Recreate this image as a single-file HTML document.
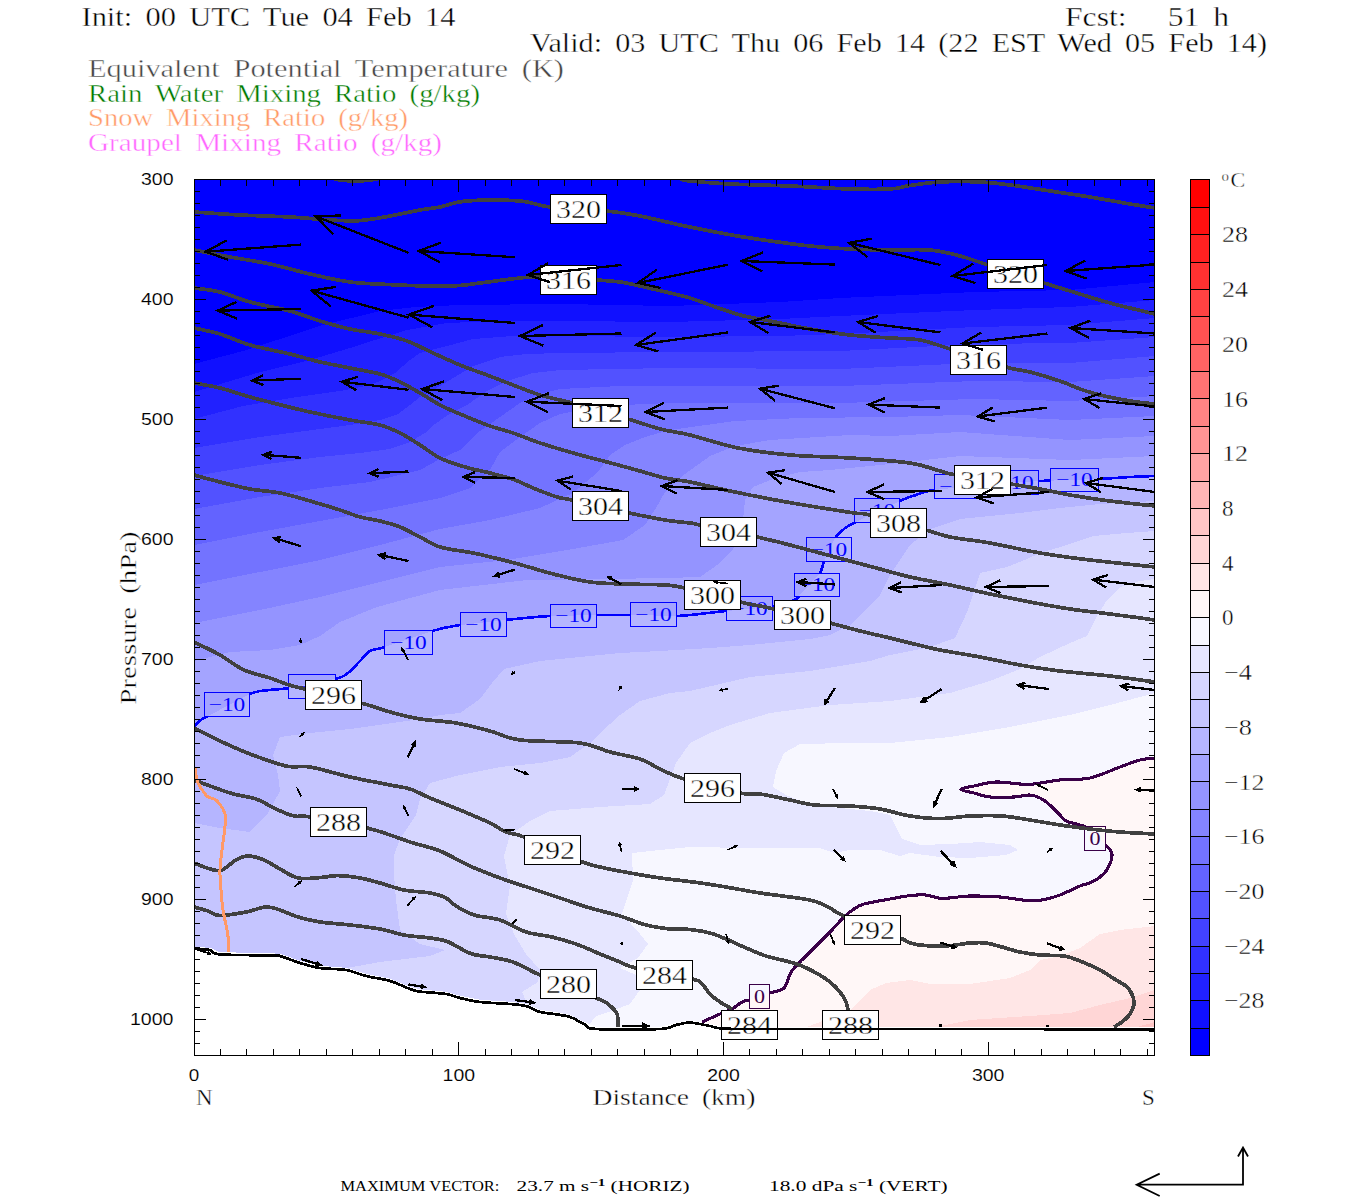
<!DOCTYPE html>
<html><head><meta charset="utf-8"><title>Cross section</title>
<style>html,body{margin:0;padding:0;background:#fff}svg{display:block}text{white-space:pre}</style></head><body>
<svg width="1350" height="1200" viewBox="0 0 1350 1200">
<rect width="1350" height="1200" fill="#fff"/>
<defs><clipPath id="pc"><rect x="194" y="179" width="961" height="876"/></clipPath></defs>
<text x="81.5" y="26" font-family='"Liberation Serif", serif' font-size="27" fill="#000" text-anchor="start" textLength="374" lengthAdjust="spacingAndGlyphs" stroke="#fff" stroke-width="0.4" word-spacing="5">Init: 00 UTC Tue 04 Feb 14</text>
<text x="1065" y="26" font-family='"Liberation Serif", serif' font-size="27" fill="#000" text-anchor="start" textLength="164" lengthAdjust="spacingAndGlyphs" stroke="#fff" stroke-width="0.4" word-spacing="5">Fcst:   51 h</text>
<text x="530" y="52" font-family='"Liberation Serif", serif' font-size="27" fill="#000" text-anchor="start" textLength="737" lengthAdjust="spacingAndGlyphs" stroke="#fff" stroke-width="0.4" word-spacing="5">Valid: 03 UTC Thu 06 Feb 14 (22 EST Wed 05 Feb 14)</text>
<text x="88" y="76.5" font-family='"Liberation Serif", serif' font-size="24.5" fill="#444" text-anchor="start" textLength="476" lengthAdjust="spacingAndGlyphs" stroke="#fff" stroke-width="0.4" word-spacing="5">Equivalent Potential Temperature (K)</text>
<text x="88" y="101.5" font-family='"Liberation Serif", serif' font-size="24.5" fill="#007a00" text-anchor="start" textLength="392" lengthAdjust="spacingAndGlyphs" stroke="#fff" stroke-width="0.4" word-spacing="5">Rain Water Mixing Ratio (g/kg)</text>
<text x="88" y="126" font-family='"Liberation Serif", serif' font-size="24.5" fill="#ff9966" text-anchor="start" textLength="320" lengthAdjust="spacingAndGlyphs" stroke="#fff" stroke-width="0.4" word-spacing="5">Snow Mixing Ratio (g/kg)</text>
<text x="88" y="150.5" font-family='"Liberation Serif", serif' font-size="24.5" fill="#ff66ff" text-anchor="start" textLength="354" lengthAdjust="spacingAndGlyphs" stroke="#fff" stroke-width="0.4" word-spacing="5">Graupel Mixing Ratio (g/kg)</text>
<g clip-path="url(#pc)" shape-rendering="crispEdges">
<rect x="194" y="179" width="961" height="876" fill="rgb(0,0,255)"/>
<polygon points="194,364 243,351 277,340 323,325 380,311 415,307 460,305 560,304 670,306 780,302 840,298 975,292 1070,290 1155,282 1157,282 1157,1057 192,1057 192,364" fill="rgb(16,16,255)"/>
<polygon points="194,392 257,373 310,360 350,348 375,340 407,330 447,323 500,321 560,321 670,322 780,319 840,316 975,310 1070,307 1155,300 1157,300 1157,1057 192,1057 192,392" fill="rgb(33,33,255)"/>
<polygon points="194,419 243,406 297,397 340,391 365,386 380,381 395,373 410,360 420,353 447,346 473,339 513,336 560,336 670,337 780,336 840,334 975,327 1070,325 1155,318 1157,318 1157,1057 192,1057 192,419" fill="rgb(49,49,255)"/>
<polygon points="194,448 260,437 320,429 350,425 380,420 398,414 410,405 420,397 435,389 455,377 473,366 500,357 527,354 560,353 670,352 840,351 975,344 1070,343 1155,337 1157,337 1157,1057 192,1057 192,448" fill="rgb(66,66,255)"/>
<polygon points="194,476 260,465 320,457 360,453 390,449 410,442 425,433 435,424 448,415 467,405 487,391 507,381 533,373 560,370 670,368 840,369 975,363 1070,363 1155,356 1157,356 1157,1057 192,1057 192,476" fill="rgb(82,82,255)"/>
<polygon points="194,509 260,497 320,488 370,482 420,470 440,459 460,450 480,431 500,417 520,403 540,394 560,389 620,386 670,386 840,386 975,381 1070,382 1155,376 1157,376 1157,1057 192,1057 192,509" fill="rgb(99,99,255)"/>
<polygon points="194,545 260,532 320,521 380,510 440,498 470,488 490,470 500,452 520,437 540,423 560,414 600,406 670,403 840,403 975,399 1070,401 1155,396 1157,396 1157,1057 192,1057 192,545" fill="rgb(115,115,255)"/>
<polygon points="194,585 260,572 320,560 380,545 440,529 490,520 540,508 573,493 598,472 610,455 625,445 645,437 670,430 735,421 800,418 890,417 960,415 1070,420 1155,416 1157,416 1157,1057 192,1057 192,585" fill="rgb(132,132,255)"/>
<polygon points="194,623 260,610 320,597 380,582 440,567 507,560 573,549 623,540 645,525 656,508 665,492 685,474 710,456 735,446 770,440 850,435 890,436 960,432 1070,440 1155,436 1157,436 1157,1057 192,1057 192,623" fill="rgb(148,148,255)"/>
<polygon points="194,661 230,652 270,650 300,645 320,636 340,622 377,607 440,590 527,580 607,579 665,578 700,577 720,563 733,549 743,520 745,500 753,487 773,479 800,472 830,470 890,464 960,456 1070,460 1155,456 1157,456 1157,1057 192,1057 192,661" fill="rgb(164,164,255)"/>
<polygon points="194,727 202,719 210,715 250,694 270,690 289,688 335,679 348,673 360,661 370,651 385,647 432,631 460,625 505,620 550,616 597,615 630,615 677,616 726,611 772,607 794,600 800,595 812,582 820,573 824,562 830,548 835,538 844,529 856,522 900,501 916,495 934,490 990,484 1039,481 1098,479 1130,477 1155,476 1157,476 1157,1057 192,1057 192,727" fill="rgb(181,181,255)"/>
<polygon points="194,823 220,828 250,832 268,813 280,791 278,775 273,755 280,737 310,733 350,729 420,719 440,715 460,713 480,699 492,683 504,669 540,661 580,657 620,653 660,651 710,648 750,645 810,639 830,635 850,625 880,595 890,575 910,545 930,529 960,519 1020,513 1060,508 1100,504 1155,501 1157,501 1157,1057 192,1057 192,823" fill="rgb(197,197,255)"/>
<polygon points="330,971 380,962 430,956 445,950 420,944 400,930 396,900 394,875 394,855 400,839 416,815 420,799 430,783 460,775 500,767 540,763 570,757 590,743 600,733 620,715 640,701 670,693 690,691 750,677 810,671 870,661 890,655 930,647 955,638 968,610 980,573 1007,567 1027,559 1040,553 1067,545 1093,536 1127,533 1155,531 1157,531 1157,1057 330,1057" fill="rgb(214,214,255)"/>
<polygon points="530,1010 522,992 538,982 540,970 526,954 514,934 506,914 510,886 504,856 510,835 530,821 550,811 600,807 650,804 664,795 670,779 676,763 690,743 710,733 730,725 770,713 830,705 890,701 950,693 990,681 1020,669 1040,657 1070,643 1087,636 1097,616 1107,600 1120,587 1140,581 1155,579 1157,579 1157,1057 530,1057" fill="rgb(230,230,255)"/>
<polygon points="588,1026 596,1016 614,1010 630,1004 640,990 636,975 620,968 638,958 648,944 640,934 622,914 628,896 633,880 632,853 660,850 690,847 750,848 820,848 834,853 850,850 880,850 900,856 910,853 940,857 970,858 1006,855 1018,850 1010,845 980,842 950,844 920,845 902,839 896,827 890,815 870,811 810,805 786,795 773,787 776,771 784,753 800,744 850,743 890,743 950,737 1010,727 1070,715 1110,705 1155,693 1157,693 1157,1057 588,1057" fill="rgb(247,247,255)"/>
<polygon points="702,1022 720,1014 732,1009 742,1002 749,1000 770,993 784,988 790,974 796,966 810,952 830,932 844,917 854,909 864,904 890,899 910,895.6 926,895 942,898.4 970,896 1000,897 1026,900.4 1042,900 1060,895 1080,886 1090,883 1100,877 1108,868 1112,854 1105.6,845 1096,835 1086,827 1080,825 1066,821 1060,815 1052,807 1042,799 1030,795 1014,797 990,797 974,793 961,789.4 974,786 996,782 1020,784 1034,784 1060,780 1090,778 1120,767 1140,760 1155,758 1157,758 1157,1057 702,1057" fill="rgb(255,247,247)"/>
<polygon points="802,1029 830,1018 850,1010 860,1000 870,990 886,983 910,980 930,984 970,984 1010,978 1030,970 1040,960 1060,956 1080,948 1100,934 1120,930 1155,926 1157,926 1157,1057 802,1057" fill="rgb(255,230,230)"/>
<polygon points="926,1029 970,1020 1030,1016 1070,1013 1100,1005 1130,998 1155,990 1157,990 1157,1057 926,1057" fill="rgb(255,214,214)"/>
<polygon points="1130,1029 1155,1022 1157,1022 1157,1057 1130,1057" fill="rgb(255,197,197)"/>
<polygon points="194,946.8 210,947.8 220,952.2 270,953.2 280,953.8 300,960.8 320,965.8 346,967.8 366,973.8 390,978.8 410,986.8 420,989.4 446,991.8 460,995.8 480,999.8 510,1001.8 526,1003.8 540,1009.8 554,1011.8 570,1014.8 584,1021.8 596,1026.8 660,1026.8 676,1022.8 690,1020.4 710,1023.8 722,1026.3 760,1026.8 960,1026.8 1155,1027.2 1157,1057 192,1057" fill="#fff"/>
<mask id="m10" maskUnits="userSpaceOnUse" x="0" y="0" width="1350" height="1200"><rect width="1350" height="1200" fill="#fff"/><rect x="204" y="692" width="45.6" height="24" fill="#000"/><rect x="289" y="674.4" width="46.4" height="24.1" fill="#000"/><rect x="385" y="630.7" width="47" height="24.1" fill="#000"/><rect x="460.4" y="612" width="46.1" height="24" fill="#000"/><rect x="550" y="604" width="46.7" height="23.8" fill="#000"/><rect x="630" y="603" width="46.7" height="24" fill="#000"/><rect x="726.4" y="596.6" width="46" height="24" fill="#000"/><rect x="794.4" y="573.4" width="45.2" height="23.2" fill="#000"/><rect x="806.4" y="537.4" width="45.2" height="24" fill="#000"/><rect x="854.4" y="498.4" width="45.2" height="24" fill="#000"/><rect x="934.4" y="474.4" width="45.6" height="24" fill="#000"/><rect x="992" y="471" width="46.6" height="23.6" fill="#000"/><rect x="1051" y="468.4" width="47" height="23.4" fill="#000"/><rect x="749.6" y="984.4" width="20.2" height="24.1" fill="#000"/><rect x="1085" y="826.7" width="20.6" height="23.3" fill="#000"/></mask>
<path d="M194 727C195.3 725.7 199.3 721 202 719C204.7 717 202 719.2 210 715C218 710.8 240 698.2 250 694C260 689.8 263.5 691 270 690C276.5 689 278.2 689.8 289 688C299.8 686.2 325.2 681.5 335 679C344.8 676.5 343.8 676 348 673C352.2 670 356.3 664.7 360 661C363.7 657.3 365.8 653.3 370 651C374.2 648.7 374.7 650.3 385 647C395.3 643.7 419.5 634.7 432 631C444.5 627.3 447.8 626.8 460 625C472.2 623.2 490 621.5 505 620C520 618.5 534.7 616.8 550 616C565.3 615.2 583.7 615.2 597 615C610.3 614.8 616.7 614.8 630 615C643.3 615.2 661 616.7 677 616C693 615.3 710.2 612.5 726 611C741.8 609.5 760.7 608.8 772 607C783.3 605.2 789.3 602 794 600C798.7 598 797 598 800 595C803 592 808.7 585.7 812 582C815.3 578.3 818 576.3 820 573C822 569.7 822.3 566.2 824 562C825.7 557.8 828.2 552 830 548C831.8 544 832.7 541.2 835 538C837.3 534.8 840.5 531.7 844 529C847.5 526.3 846.7 526.7 856 522C865.3 517.3 890 505.5 900 501C910 496.5 910.3 496.8 916 495C921.7 493.2 921.7 491.8 934 490C946.3 488.2 972.5 485.5 990 484C1007.5 482.5 1021 481.8 1039 481C1057 480.2 1082.8 479.7 1098 479C1113.2 478.3 1120.5 477.5 1130 477C1139.5 476.5 1150.8 476.2 1155 476" fill="none" stroke="#0000ff" stroke-width="2.6" mask="url(#m10)"/>
<rect x="204.5" y="692.5" width="45" height="24" fill="none" stroke="#0000ff" stroke-width="1"/>
<text x="227" y="711.2" font-family='"Liberation Serif", serif' font-size="18.5" fill="#0000ff" text-anchor="middle" textLength="36.5" lengthAdjust="spacingAndGlyphs" >−10</text>
<rect x="288.5" y="674.5" width="47" height="24" fill="none" stroke="#0000ff" stroke-width="1"/>
<text x="312" y="693.2" font-family='"Liberation Serif", serif' font-size="18.5" fill="#0000ff" text-anchor="middle" textLength="36.5" lengthAdjust="spacingAndGlyphs" >−10</text>
<rect x="384.5" y="630.5" width="48" height="24" fill="none" stroke="#0000ff" stroke-width="1"/>
<text x="408.5" y="649.2" font-family='"Liberation Serif", serif' font-size="18.5" fill="#0000ff" text-anchor="middle" textLength="36.5" lengthAdjust="spacingAndGlyphs" >−10</text>
<rect x="460.5" y="612.5" width="46" height="24" fill="none" stroke="#0000ff" stroke-width="1"/>
<text x="483.5" y="631.2" font-family='"Liberation Serif", serif' font-size="18.5" fill="#0000ff" text-anchor="middle" textLength="36.5" lengthAdjust="spacingAndGlyphs" >−10</text>
<rect x="550.5" y="604.5" width="46" height="23" fill="none" stroke="#0000ff" stroke-width="1"/>
<text x="573.5" y="622.2" font-family='"Liberation Serif", serif' font-size="18.5" fill="#0000ff" text-anchor="middle" textLength="36.5" lengthAdjust="spacingAndGlyphs" >−10</text>
<rect x="630.5" y="602.5" width="46" height="24" fill="none" stroke="#0000ff" stroke-width="1"/>
<text x="653.5" y="621.2" font-family='"Liberation Serif", serif' font-size="18.5" fill="#0000ff" text-anchor="middle" textLength="36.5" lengthAdjust="spacingAndGlyphs" >−10</text>
<rect x="726.5" y="596.5" width="46" height="24" fill="none" stroke="#0000ff" stroke-width="1"/>
<text x="749.5" y="615.2" font-family='"Liberation Serif", serif' font-size="18.5" fill="#0000ff" text-anchor="middle" textLength="36.5" lengthAdjust="spacingAndGlyphs" >−10</text>
<rect x="794.5" y="573.5" width="45" height="23" fill="none" stroke="#0000ff" stroke-width="1"/>
<text x="817" y="591.2" font-family='"Liberation Serif", serif' font-size="18.5" fill="#0000ff" text-anchor="middle" textLength="36.5" lengthAdjust="spacingAndGlyphs" >−10</text>
<rect x="806.5" y="537.5" width="45" height="24" fill="none" stroke="#0000ff" stroke-width="1"/>
<text x="829" y="556.2" font-family='"Liberation Serif", serif' font-size="18.5" fill="#0000ff" text-anchor="middle" textLength="36.5" lengthAdjust="spacingAndGlyphs" >−10</text>
<rect x="854.5" y="498.5" width="45" height="24" fill="none" stroke="#0000ff" stroke-width="1"/>
<text x="877" y="517.2" font-family='"Liberation Serif", serif' font-size="18.5" fill="#0000ff" text-anchor="middle" textLength="36.5" lengthAdjust="spacingAndGlyphs" >−10</text>
<rect x="934.5" y="474.5" width="46" height="24" fill="none" stroke="#0000ff" stroke-width="1"/>
<text x="957.5" y="493.2" font-family='"Liberation Serif", serif' font-size="18.5" fill="#0000ff" text-anchor="middle" textLength="36.5" lengthAdjust="spacingAndGlyphs" >−10</text>
<rect x="992.5" y="470.5" width="46" height="24" fill="none" stroke="#0000ff" stroke-width="1"/>
<text x="1015.5" y="489.2" font-family='"Liberation Serif", serif' font-size="18.5" fill="#0000ff" text-anchor="middle" textLength="36.5" lengthAdjust="spacingAndGlyphs" >−10</text>
<rect x="1050.5" y="468.5" width="48" height="23" fill="none" stroke="#0000ff" stroke-width="1"/>
<text x="1074.5" y="486.2" font-family='"Liberation Serif", serif' font-size="18.5" fill="#0000ff" text-anchor="middle" textLength="36.5" lengthAdjust="spacingAndGlyphs" >−10</text>
<path d="M702 1022C705 1020.7 715 1016.2 720 1014C725 1011.8 728.3 1011 732 1009C735.7 1007 739.2 1003.5 742 1002C744.8 1000.5 744.3 1001.5 749 1000C753.7 998.5 764.2 995 770 993C775.8 991 780.7 991.2 784 988C787.3 984.8 788 977.7 790 974C792 970.3 792.7 969.7 796 966C799.3 962.3 804.3 957.7 810 952C815.7 946.3 824.3 937.8 830 932C835.7 926.2 840 920.8 844 917C848 913.2 850.7 911.2 854 909C857.3 906.8 858 905.7 864 904C870 902.3 882.3 900.4 890 899C897.7 897.6 904 896.3 910 895.6C916 894.9 920.7 894.5 926 895C931.3 895.5 934.7 898.2 942 898.4C949.3 898.6 960.3 896.2 970 896C979.7 895.8 990.7 896.3 1000 897C1009.3 897.7 1019 899.9 1026 900.4C1033 900.9 1036.3 900.9 1042 900C1047.7 899.1 1053.7 897.3 1060 895C1066.3 892.7 1075 888 1080 886C1085 884 1086.7 884.5 1090 883C1093.3 881.5 1097 879.5 1100 877C1103 874.5 1106 871.8 1108 868C1110 864.2 1112.4 857.8 1112 854C1111.6 850.2 1108.3 848.2 1105.6 845C1102.9 841.8 1099.3 838 1096 835C1092.7 832 1088.7 828.7 1086 827C1083.3 825.3 1083.3 826 1080 825C1076.7 824 1069.3 822.7 1066 821C1062.7 819.3 1062.3 817.3 1060 815C1057.7 812.7 1055 809.7 1052 807C1049 804.3 1045.7 801 1042 799C1038.3 797 1034.7 795.3 1030 795C1025.3 794.7 1020.7 796.7 1014 797C1007.3 797.3 996.7 797.7 990 797C983.3 796.3 978.8 794.3 974 793C969.2 791.7 961 790.6 961 789.4C961 788.2 968.2 787.2 974 786C979.8 784.8 988.3 782.3 996 782C1003.7 781.7 1013.7 783.7 1020 784C1026.3 784.3 1027.3 784.7 1034 784C1040.7 783.3 1050.7 781 1060 780C1069.3 779 1080 780.2 1090 778C1100 775.8 1111.7 770 1120 767C1128.3 764 1134.2 761.5 1140 760C1145.8 758.5 1152.5 758.3 1155 758" fill="none" stroke="#3a0048" stroke-width="3.1" mask="url(#m10)"/>
<rect x="749.5" y="984.5" width="20" height="24" fill="none" stroke="#3a0048" stroke-width="1"/>
<text x="759.5" y="1003.2" font-family='"Liberation Serif", serif' font-size="18.5" fill="#3a0048" text-anchor="middle" textLength="11" lengthAdjust="spacingAndGlyphs" >0</text>
<rect x="1084.5" y="826.5" width="21" height="24" fill="none" stroke="#3a0048" stroke-width="1"/>
<text x="1095" y="845.2" font-family='"Liberation Serif", serif' font-size="18.5" fill="#3a0048" text-anchor="middle" textLength="11" lengthAdjust="spacingAndGlyphs" >0</text>
<path d="M680 179C681.7 179.3 681.7 180.2 690 181C698.3 181.8 713.3 183.2 730 184C746.7 184.8 770 185.2 790 186C810 186.8 833.3 188.5 850 189C866.7 189.5 880 189.6 890 189C900 188.4 901.7 186.7 910 185.5C918.3 184.3 928.3 182.6 940 182C951.7 181.4 968.3 181.5 980 182C991.7 182.5 998.3 183.5 1010 185C1021.7 186.5 1036.7 189 1050 191C1063.3 193 1076.7 194.8 1090 197C1103.3 199.2 1119.2 202.2 1130 204C1140.8 205.8 1150.8 207.3 1155 208" fill="none" stroke="#404040" stroke-width="3.7" stroke-linejoin="round"/>
<path d="M334 179C335.8 179.2 340.7 180.2 345 180.5C349.3 180.8 354.5 181.2 360 181C365.5 180.8 375 179.3 378 179" fill="none" stroke="#404040" stroke-width="3.7" stroke-linejoin="round"/>
<path d="M194 212C201.7 212.5 224 214.2 240 215C256 215.8 275 216.2 290 217C305 217.8 318.3 219.4 330 220C341.7 220.6 350 221.3 360 220.6C370 219.9 380 217.8 390 216C400 214.2 411.7 211.5 420 210C428.3 208.5 432.3 208.5 440 207C447.7 205.5 452.7 202 466 201C479.3 200 506 200 520 201C534 202 535.7 205.3 550 207C564.3 208.7 591 209.5 606 211C621 212.5 627.7 213.7 640 216C652.3 218.3 668.3 222.5 680 225C691.7 227.5 698.3 228.8 710 231C721.7 233.2 733.3 235.5 750 238C766.7 240.5 793.3 244.2 810 246C826.7 247.8 836.7 248.3 850 249C863.3 249.7 876.7 249.8 890 250C903.3 250.2 918.3 249 930 250C941.7 251 950.3 253.5 960 256C969.7 258.5 974 260.5 988 265C1002 269.5 1030.3 278.7 1044 283C1057.7 287.3 1059 287.7 1070 291C1081 294.3 1095.8 299.2 1110 303C1124.2 306.8 1147.5 312.2 1155 314" fill="none" stroke="#404040" stroke-width="3.7" stroke-linejoin="round"/>
<path d="M194 250C200 251.2 217.3 254.7 230 257C242.7 259.3 256.7 261.2 270 264C283.3 266.8 296.7 271 310 274C323.3 277 336.7 280.2 350 282C363.3 283.8 376.7 283.9 390 284.6C403.3 285.3 418.3 285.9 430 286C441.7 286.1 451.7 286 460 285.5C468.3 285 470 284.2 480 283C490 281.8 510 279 520 278C530 277 527.3 276.7 540 277C552.7 277.3 582.7 279.2 596 280C609.3 280.8 612.7 281 620 282C627.3 283 631.7 284.2 640 286C648.3 287.8 661.7 291 670 293C678.3 295 683.3 296 690 298C696.7 300 701.7 302.2 710 305C718.3 307.8 730 312.3 740 315C750 317.7 758.3 318.7 770 321C781.7 323.3 796.7 326.7 810 329C823.3 331.3 836.7 333.5 850 335C863.3 336.5 878.3 337.2 890 338C901.7 338.8 910 338.2 920 340C930 341.8 935.7 344.5 950 349C964.3 353.5 992.7 363.2 1006 367C1019.3 370.8 1021 369.7 1030 372C1039 374.3 1051.7 378.2 1060 381C1068.3 383.8 1073.3 386.7 1080 389C1086.7 391.3 1091.7 393 1100 395C1108.3 397 1120.8 399.5 1130 401C1139.2 402.5 1150.8 403.5 1155 404" fill="none" stroke="#404040" stroke-width="3.7" stroke-linejoin="round"/>
<path d="M194 288C198.3 288.7 210.7 289.7 220 292C229.3 294.3 238.3 298.8 250 302C261.7 305.2 278.3 307.8 290 311C301.7 314.2 310 318 320 321C330 324 340 326.8 350 329C360 331.2 370.5 332 380 334C389.5 336 398.2 337.8 407 341C415.8 344.2 424.2 349 433 353C441.8 357 451 361.3 460 365C469 368.7 478.2 371.7 487 375C495.8 378.3 504.2 381.7 513 385C521.8 388.3 530.2 392 540 395C549.8 398 557.3 399 572 403C586.7 407 613.3 414.7 628 419C642.7 423.3 649.7 426.3 660 429C670.3 431.7 677 431.8 690 435C703 438.2 721.3 444.7 738 448C754.7 451.3 771.3 453.3 790 455C808.7 456.7 830 456.7 850 458C870 459.3 895 460.8 910 463C925 465.2 932.3 469 940 471C947.7 473 944.2 472.8 956 475C967.8 477.2 997 481.7 1011 484C1025 486.3 1030.2 487.2 1040 489C1049.8 490.8 1058.3 493 1070 495C1081.7 497 1095.8 499.2 1110 501C1124.2 502.8 1147.5 505.2 1155 506" fill="none" stroke="#404040" stroke-width="3.7" stroke-linejoin="round"/>
<path d="M194 328C198.3 329 210.7 331.2 220 334C229.3 336.8 238.3 341.7 250 345C261.7 348.3 278.3 351.2 290 354C301.7 356.8 310 359.7 320 362C330 364.3 340 366 350 368C360 370 371.7 371.7 380 374C388.3 376.3 393.3 378.8 400 382C406.7 385.2 413.3 389.2 420 393C426.7 396.8 433.3 401.5 440 405C446.7 408.5 452.2 410.7 460 414C467.8 417.3 478.2 421.8 487 425C495.8 428.2 504.2 430 513 433C521.8 436 530 439.7 540 443C550 446.3 561.8 449.8 573 453C584.2 456.2 595.8 459 607 462C618.2 465 630.3 468.3 640 471C649.7 473.7 656.7 476.2 665 478C673.3 479.8 679.2 479.8 690 482C700.8 484.2 716.7 488.2 730 491C743.3 493.8 756.7 496.5 770 499C783.3 501.5 796 503.7 810 506C824 508.3 844 511.5 854 513C864 514.5 858 512.2 870 515C882 517.8 912.7 526.3 926 530C939.3 533.7 939.3 534.8 950 537C960.7 539.2 975 540.3 990 543C1005 545.7 1023.3 550.2 1040 553C1056.7 555.8 1070.8 557.7 1090 560C1109.2 562.3 1144.2 565.8 1155 567" fill="none" stroke="#404040" stroke-width="3.7" stroke-linejoin="round"/>
<path d="M194 383C198.3 383.8 210.7 385.7 220 388C229.3 390.3 239.8 394.2 250 397C260.2 399.8 271 402.5 281 405C291 407.5 298.5 409.5 310 412C321.5 414.5 338.3 417.8 350 420C361.7 422.2 371.7 422.8 380 425C388.3 427.2 393.3 429.7 400 433C406.7 436.3 413.3 440.8 420 445C426.7 449.2 432.5 454.3 440 458C447.5 461.7 456.7 464.5 465 467C473.3 469.5 481.7 470.8 490 473C498.3 475.2 507.8 477.5 515 480C522.2 482.5 526 485.2 533 488C540 490.8 550.5 495 557 497C563.5 499 560 497.3 572 500C584 502.7 613.5 509.7 629 513C644.5 516.3 654.8 518.3 665 520C675.2 521.7 684.2 522.2 690 523C695.8 523.8 688.8 522.7 700 525C711.2 527.3 742 533.7 757 537C772 540.3 779.5 542.3 790 545C800.5 547.7 810 550.3 820 553C830 555.7 840 558.3 850 561C860 563.7 870 566.3 880 569C890 571.7 898.3 574.3 910 577C921.7 579.7 936.7 582.2 950 585C963.3 587.8 976.7 591.2 990 594C1003.3 596.8 1016.7 599.5 1030 602C1043.3 604.5 1056.7 607 1070 609C1083.3 611 1095.8 612.2 1110 614C1124.2 615.8 1147.5 619 1155 620" fill="none" stroke="#404040" stroke-width="3.7" stroke-linejoin="round"/>
<path d="M194 475C198.3 476.2 210.7 479.7 220 482C229.3 484.3 240 487.2 250 489C260 490.8 270 491 280 493C290 495 300 498.2 310 501C320 503.8 331.7 507.3 340 510C348.3 512.7 353.3 515.2 360 517C366.7 518.8 373.3 519.3 380 521C386.7 522.7 393.3 524.3 400 527C406.7 529.7 413.3 533.7 420 537C426.7 540.3 431.2 544.3 440 547C448.8 549.7 461.8 550.7 473 553C484.2 555.3 497.2 558.5 507 561C516.8 563.5 523.7 565.7 532 568C540.3 570.3 547.3 572.7 557 575C566.7 577.3 579 580.5 590 582C601 583.5 610.5 583.5 623 584C635.5 584.5 654.7 584.3 665 585C675.3 585.7 672.5 585.2 685 588C697.5 590.8 725.2 598.5 740 602C754.8 605.5 759 605.5 774 609C789 612.5 815.7 619.3 830 623C844.3 626.7 850 628.5 860 631C870 633.5 881.7 636 890 638C898.3 640 901.7 641 910 643C918.3 645 928.3 647.7 940 650C951.7 652.3 966.7 654.5 980 657C993.3 659.5 1006.7 662.7 1020 665C1033.3 667.3 1045 669.2 1060 671C1075 672.8 1094.2 674.2 1110 676C1125.8 677.8 1147.5 681 1155 682" fill="none" stroke="#404040" stroke-width="3.7" stroke-linejoin="round"/>
<path d="M194 642C198.3 644.2 211.7 650.3 220 655C228.3 659.7 235.7 666.2 244 670C252.3 673.8 262.5 675.5 270 678C277.5 680.5 283.2 683.2 289 685C294.8 686.8 293 686 305 689C317 692 346.8 699.2 361 703C375.2 706.8 380.2 709.3 390 712C399.8 714.7 409 717.2 420 719C431 720.8 444.3 721 456 723C467.7 725 479.3 728.2 490 731C500.7 733.8 505 738 520 740C535 742 565 741 580 743C595 745 600 749.3 610 752C620 754.7 631.7 756.2 640 759C648.3 761.8 652.7 765.7 660 769C667.3 772.3 670.7 775 684 779C697.3 783 727.3 790.5 740 793C752.7 795.5 751.7 792.8 760 794C768.3 795.2 781 798.2 790 800C799 801.8 804 804 814 805C824 806 839 805.3 850 806C861 806.7 870 807.3 880 809C890 810.7 900 814.4 910 816C920 817.6 930 818.6 940 818.6C950 818.6 959.7 816.4 970 816C980.3 815.6 992 815.3 1002 816C1012 816.7 1020.3 818.5 1030 820C1039.7 821.5 1050 823.5 1060 825C1070 826.5 1080 827.8 1090 829C1100 830.2 1109.2 831.2 1120 832C1130.8 832.8 1149.2 833.7 1155 834" fill="none" stroke="#404040" stroke-width="3.7" stroke-linejoin="round"/>
<path d="M194 728C198.3 730.2 210.7 736.7 220 741C229.3 745.3 239 749.8 250 754C261 758.2 276 763.8 286 766C296 768.2 299.3 765.2 310 767C320.7 768.8 336.7 774 350 777C363.3 780 380 783 390 785C400 787 403.3 786.8 410 789C416.7 791.2 421.7 794.5 430 798C438.3 801.5 450 805.8 460 810C470 814.2 482.3 819.3 490 823C497.7 826.7 500.3 829.7 506 832C511.7 834.3 511.7 832.2 524 837C536.3 841.8 567.3 856 580 861C592.7 866 591.7 865 600 867C608.3 869 620 871.2 630 873C640 874.8 650 876.6 660 878C670 879.4 680 880.3 690 881.6C700 882.9 708.3 884.1 720 886C731.7 887.9 748.3 891.2 760 893C771.7 894.8 781 895.7 790 897C799 898.3 807.3 899.2 814 901C820.7 902.8 825 905.5 830 908C835 910.5 832.3 911 844 916C855.7 921 889 933.5 900 938C911 942.5 905.7 941.7 910 943C914.3 944.3 919.3 945.2 926 945.6C932.7 946 942.7 946 950 945.6C957.3 945.2 964 943.4 970 943C976 942.6 980.7 942.3 986 943C991.3 943.7 996.3 945.5 1002 947C1007.7 948.5 1013.7 950.7 1020 952C1026.3 953.3 1032.7 954.3 1040 955C1047.3 955.7 1057.3 955 1064 956C1070.7 957 1074 958.7 1080 961C1086 963.3 1094 966.8 1100 970C1106 973.2 1111.3 977 1116 980C1120.7 983 1125 984.3 1128 988C1131 991.7 1133.7 997.7 1134 1002C1134.3 1006.3 1132 1010.7 1130 1014C1128 1017.3 1124.7 1019.8 1122 1022C1119.3 1024.2 1115.3 1026.2 1114 1027" fill="none" stroke="#404040" stroke-width="3.7" stroke-linejoin="round"/>
<path d="M194 780C200 782.2 219.7 789.8 230 793C240.3 796.2 248.3 796.3 256 799C263.7 801.7 269.7 806.2 276 809C282.3 811.8 288.2 814.7 294 816C299.8 817.3 298.8 815 311 817C323.2 819 353.8 825 367 828C380.2 831 382.8 832.7 390 835C397.2 837.3 401.7 839.3 410 842C418.3 844.7 430 847 440 851C450 855 460 861.5 470 866C480 870.5 490 874.3 500 878C510 881.7 520 884.7 530 888C540 891.3 550 894.7 560 898C570 901.3 580 905 590 908C600 911 610.7 913.2 620 916C629.3 918.8 637.7 922.8 646 925C654.3 927.2 662.7 928.2 670 929C677.3 929.8 683.3 928.8 690 929.5C696.7 930.2 704 931.4 710 933C716 934.6 720 936.5 726 939C732 941.5 739.3 945.2 746 948C752.7 950.8 759.3 953.8 766 956C772.7 958.2 780 959.3 786 961C792 962.7 796.7 963.8 802 966C807.3 968.2 813.3 971.3 818 974C822.7 976.7 826.3 979 830 982C833.7 985 837.3 988.7 840 992C842.7 995.3 844.6 998.7 846 1002C847.4 1005.3 848 1010.3 848.4 1012" fill="none" stroke="#404040" stroke-width="3.7" stroke-linejoin="round"/>
<path d="M194 863C196.7 864 205.3 867.8 210 869C214.7 870.2 217.7 871.5 222 870C226.3 868.5 231.7 862.3 236 860C240.3 857.7 243.3 856 248 856C252.7 856 258.7 857.8 264 860C269.3 862.2 274.3 866 280 869C285.7 872 291.3 876.6 298 878C304.7 879.4 313.3 878 320 877.6C326.7 877.2 331.3 875.5 338 875.6C344.7 875.7 353 876.8 360 878C367 879.2 372.7 881 380 883C387.3 885 395.7 888.3 404 890C412.3 891.7 423 891.7 430 893C437 894.3 441.7 895.8 446 898C450.3 900.2 451.3 903.2 456 906C460.7 908.8 466.7 912.7 474 915C481.3 917.3 491.3 917.2 500 920C508.7 922.8 517.3 929.2 526 932C534.7 934.8 543.7 935 552 937C560.3 939 568 941.2 576 944C584 946.8 592.7 951 600 954C607.3 957 614 959.7 620 962C626 964.3 624 965.2 636 968C648 970.8 681 976.3 692 979C703 981.7 699 981.5 702 984C705 986.5 707 991 710 994C713 997 716.3 999.5 720 1002C723.7 1004.5 730 1007.8 732 1009" fill="none" stroke="#404040" stroke-width="3.7" stroke-linejoin="round"/>
<path d="M194 907C196.3 907.7 203.7 909.6 208 911C212.3 912.4 213.7 915.4 220 915.6C226.3 915.8 238.3 913.4 246 912C253.7 910.6 260.3 907.3 266 907C271.7 906.7 274.7 908.3 280 910C285.3 911.7 291.3 915 298 917C304.7 919 311.3 920.7 320 922C328.7 923.3 340 923.8 350 925C360 926.2 371 927.3 380 929C389 930.7 395.7 933.5 404 935C412.3 936.5 423 937 430 938C437 939 441.7 939.7 446 941C450.3 942.3 451.7 943.8 456 946C460.3 948.2 466.3 952.2 472 954C477.7 955.8 483.7 955.8 490 957C496.3 958.2 504 959.2 510 961C516 962.8 521 965.7 526 968C531 970.3 528.3 970 540 975C551.7 980 584.7 993.2 596 998C607.3 1002.8 604.5 1001.3 608 1004C611.5 1006.7 615.3 1010.2 617 1014C618.7 1017.8 617.8 1024.8 618 1027" fill="none" stroke="#404040" stroke-width="3.7" stroke-linejoin="round"/>
<path d="M195 768C195.2 769.2 195.5 772.5 196 775C196.5 777.5 196.8 780.3 198 783C199.2 785.7 201.3 788.7 203 791C204.7 793.3 205.8 795.5 208 797C210.2 798.5 213.5 798 216 800C218.5 802 221.4 806.2 223 809C224.6 811.8 225.3 813.5 225.6 817C225.9 820.5 225.2 824.5 224.6 830C224 835.5 222.8 843.3 222 850C221.2 856.7 220.2 863.3 220 870C219.8 876.7 220.5 883.3 221 890C221.5 896.7 222 903.3 223 910C224 916.7 226.1 924.7 227 930C227.9 935.3 228.4 938.4 228.6 942C228.8 945.6 228.4 950 228.4 951.6" fill="none" stroke="#ff9966" stroke-width="3"/>
<rect x="550.5" y="194.5" width="56" height="29" fill="#fff" stroke="#000" stroke-width="1"/>
<text x="578.5" y="217.6" font-family='"Liberation Serif", serif' font-size="25.5" fill="#000" text-anchor="middle" textLength="45" lengthAdjust="spacingAndGlyphs" stroke="#fff" stroke-width="0.4" >320</text>
<rect x="987.5" y="259.5" width="56" height="29" fill="#fff" stroke="#000" stroke-width="1"/>
<text x="1015.5" y="282.6" font-family='"Liberation Serif", serif' font-size="25.5" fill="#000" text-anchor="middle" textLength="45" lengthAdjust="spacingAndGlyphs" stroke="#fff" stroke-width="0.4" >320</text>
<rect x="540.5" y="265.5" width="56" height="29" fill="#fff" stroke="#000" stroke-width="1"/>
<text x="568.5" y="288.6" font-family='"Liberation Serif", serif' font-size="25.5" fill="#000" text-anchor="middle" textLength="45" lengthAdjust="spacingAndGlyphs" stroke="#fff" stroke-width="0.4" >316</text>
<rect x="950.5" y="345.5" width="56" height="29" fill="#fff" stroke="#000" stroke-width="1"/>
<text x="978.5" y="368.6" font-family='"Liberation Serif", serif' font-size="25.5" fill="#000" text-anchor="middle" textLength="45" lengthAdjust="spacingAndGlyphs" stroke="#fff" stroke-width="0.4" >316</text>
<rect x="572.5" y="398.5" width="56" height="29" fill="#fff" stroke="#000" stroke-width="1"/>
<text x="600.5" y="421.6" font-family='"Liberation Serif", serif' font-size="25.5" fill="#000" text-anchor="middle" textLength="45" lengthAdjust="spacingAndGlyphs" stroke="#fff" stroke-width="0.4" >312</text>
<rect x="954.5" y="465.5" width="56" height="29" fill="#fff" stroke="#000" stroke-width="1"/>
<text x="982.5" y="488.6" font-family='"Liberation Serif", serif' font-size="25.5" fill="#000" text-anchor="middle" textLength="45" lengthAdjust="spacingAndGlyphs" stroke="#fff" stroke-width="0.4" >312</text>
<rect x="870.5" y="508.5" width="56" height="29" fill="#fff" stroke="#000" stroke-width="1"/>
<text x="898.5" y="531.6" font-family='"Liberation Serif", serif' font-size="25.5" fill="#000" text-anchor="middle" textLength="45" lengthAdjust="spacingAndGlyphs" stroke="#fff" stroke-width="0.4" >308</text>
<rect x="572.5" y="491.5" width="56" height="29" fill="#fff" stroke="#000" stroke-width="1"/>
<text x="600.5" y="514.6" font-family='"Liberation Serif", serif' font-size="25.5" fill="#000" text-anchor="middle" textLength="45" lengthAdjust="spacingAndGlyphs" stroke="#fff" stroke-width="0.4" >304</text>
<rect x="700.5" y="517.5" width="56" height="29" fill="#fff" stroke="#000" stroke-width="1"/>
<text x="728.5" y="540.6" font-family='"Liberation Serif", serif' font-size="25.5" fill="#000" text-anchor="middle" textLength="45" lengthAdjust="spacingAndGlyphs" stroke="#fff" stroke-width="0.4" >304</text>
<rect x="684.5" y="580.5" width="56" height="29" fill="#fff" stroke="#000" stroke-width="1"/>
<text x="712.5" y="603.6" font-family='"Liberation Serif", serif' font-size="25.5" fill="#000" text-anchor="middle" textLength="45" lengthAdjust="spacingAndGlyphs" stroke="#fff" stroke-width="0.4" >300</text>
<rect x="774.5" y="600.5" width="56" height="29" fill="#fff" stroke="#000" stroke-width="1"/>
<text x="802.5" y="623.6" font-family='"Liberation Serif", serif' font-size="25.5" fill="#000" text-anchor="middle" textLength="45" lengthAdjust="spacingAndGlyphs" stroke="#fff" stroke-width="0.4" >300</text>
<rect x="305.5" y="680.5" width="56" height="29" fill="#fff" stroke="#000" stroke-width="1"/>
<text x="333.5" y="703.6" font-family='"Liberation Serif", serif' font-size="25.5" fill="#000" text-anchor="middle" textLength="45" lengthAdjust="spacingAndGlyphs" stroke="#fff" stroke-width="0.4" >296</text>
<rect x="684.5" y="773.5" width="56" height="29" fill="#fff" stroke="#000" stroke-width="1"/>
<text x="712.5" y="796.6" font-family='"Liberation Serif", serif' font-size="25.5" fill="#000" text-anchor="middle" textLength="45" lengthAdjust="spacingAndGlyphs" stroke="#fff" stroke-width="0.4" >296</text>
<rect x="524.5" y="835.5" width="56" height="29" fill="#fff" stroke="#000" stroke-width="1"/>
<text x="552.5" y="858.6" font-family='"Liberation Serif", serif' font-size="25.5" fill="#000" text-anchor="middle" textLength="45" lengthAdjust="spacingAndGlyphs" stroke="#fff" stroke-width="0.4" >292</text>
<rect x="844.5" y="915.5" width="56" height="29" fill="#fff" stroke="#000" stroke-width="1"/>
<text x="872.5" y="938.6" font-family='"Liberation Serif", serif' font-size="25.5" fill="#000" text-anchor="middle" textLength="45" lengthAdjust="spacingAndGlyphs" stroke="#fff" stroke-width="0.4" >292</text>
<rect x="310.5" y="807.5" width="56" height="29" fill="#fff" stroke="#000" stroke-width="1"/>
<text x="338.5" y="830.6" font-family='"Liberation Serif", serif' font-size="25.5" fill="#000" text-anchor="middle" textLength="45" lengthAdjust="spacingAndGlyphs" stroke="#fff" stroke-width="0.4" >288</text>
<rect x="822.5" y="1010.5" width="56" height="29" fill="#fff" stroke="#000" stroke-width="1"/>
<text x="850.5" y="1033.6" font-family='"Liberation Serif", serif' font-size="25.5" fill="#000" text-anchor="middle" textLength="45" lengthAdjust="spacingAndGlyphs" stroke="#fff" stroke-width="0.4" >288</text>
<rect x="636.5" y="960.5" width="56" height="29" fill="#fff" stroke="#000" stroke-width="1"/>
<text x="664.5" y="983.6" font-family='"Liberation Serif", serif' font-size="25.5" fill="#000" text-anchor="middle" textLength="45" lengthAdjust="spacingAndGlyphs" stroke="#fff" stroke-width="0.4" >284</text>
<rect x="721.5" y="1010.5" width="56" height="29" fill="#fff" stroke="#000" stroke-width="1"/>
<text x="749.5" y="1033.6" font-family='"Liberation Serif", serif' font-size="25.5" fill="#000" text-anchor="middle" textLength="45" lengthAdjust="spacingAndGlyphs" stroke="#fff" stroke-width="0.4" >284</text>
<rect x="540.5" y="969.5" width="56" height="29" fill="#fff" stroke="#000" stroke-width="1"/>
<text x="568.5" y="992.6" font-family='"Liberation Serif", serif' font-size="25.5" fill="#000" text-anchor="middle" textLength="45" lengthAdjust="spacingAndGlyphs" stroke="#fff" stroke-width="0.4" >280</text>
<path d="M194 949C196.7 949.2 205.7 949.1 210 950C214.3 950.9 210 953.5 220 954.4C230 955.3 260 955.1 270 955.4C280 955.7 275 954.7 280 956C285 957.3 293.3 961 300 963C306.7 965 312.3 966.8 320 968C327.7 969.2 338.3 968.7 346 970C353.7 971.3 358.7 974.2 366 976C373.3 977.8 382.7 978.8 390 981C397.3 983.2 405 987.2 410 989C415 990.8 414 990.8 420 991.6C426 992.4 439.3 992.9 446 994C452.7 995.1 454.3 996.7 460 998C465.7 999.3 471.7 1001 480 1002C488.3 1003 502.3 1003.3 510 1004C517.7 1004.7 521 1004.7 526 1006C531 1007.3 535.3 1010.7 540 1012C544.7 1013.3 549 1013.2 554 1014C559 1014.8 565 1015.3 570 1017C575 1018.7 579.7 1022 584 1024C588.3 1026 583.3 1028.2 596 1029C608.7 1029.8 646.7 1029.7 660 1029C673.3 1028.3 671 1026.1 676 1025C681 1023.9 684.3 1022.4 690 1022.6C695.7 1022.8 704.7 1025 710 1026C715.3 1027 713.7 1028 722 1028.5C730.3 1029 720.3 1028.9 760 1029C799.7 1029.1 894.2 1028.9 960 1029C1025.8 1029.1 1122.5 1029.3 1155 1029.4" fill="none" stroke="#000" stroke-width="2.7"/>
<path d="M301 244.6L205.6 251.7M226.7 240.4L205.6 251.7L228.1 259.8" stroke="#000" stroke-width="2.3" fill="none" stroke-linejoin="miter"/>
<path d="M408.5 252.8L316 216.5M340.8 215.4L316 216.5L333.4 234.2" stroke="#000" stroke-width="2.3" fill="none" stroke-linejoin="miter"/>
<path d="M514.8 257.2L418.5 251M441.1 242.6L418.5 251L439.9 262.2" stroke="#000" stroke-width="2.3" fill="none" stroke-linejoin="miter"/>
<path d="M621.5 265L527.8 275M548.2 263.2L527.8 275L550.2 282.2" stroke="#000" stroke-width="2.3" fill="none" stroke-linejoin="miter"/>
<path d="M728.3 264.6L638 283M656.8 269.6L638 283L660.5 288" stroke="#000" stroke-width="2.3" fill="none" stroke-linejoin="miter"/>
<path d="M835 264.6L741.5 261M763.2 252.3L741.5 261L762.5 271.3" stroke="#000" stroke-width="2.3" fill="none" stroke-linejoin="miter"/>
<path d="M940.4 265L849 242.8M872.1 238.6L849 242.8L867.6 257.2" stroke="#000" stroke-width="2.3" fill="none" stroke-linejoin="miter"/>
<path d="M1047.4 265L952.6 276M973.1 263.8L952.6 276L975.4 283.1" stroke="#000" stroke-width="2.3" fill="none" stroke-linejoin="miter"/>
<path d="M1155 264.6L1065.6 271M1085.4 260.4L1065.6 271L1086.7 278.6" stroke="#000" stroke-width="2.3" fill="none" stroke-linejoin="miter"/>
<path d="M301 309L217.8 310.6M236.6 301.8L217.8 310.6L237 318.7" stroke="#000" stroke-width="2.3" fill="none" stroke-linejoin="miter"/>
<path d="M408.5 317.6L311.5 290.6M336.4 286.9L311.5 290.6L330.9 306.6" stroke="#000" stroke-width="2.3" fill="none" stroke-linejoin="miter"/>
<path d="M514.8 323L409 314.6M434 305.8L409 314.6L432.3 327.3" stroke="#000" stroke-width="2.3" fill="none" stroke-linejoin="miter"/>
<path d="M621.5 333.5L520 336M542.9 325.1L520 336L543.4 345.7" stroke="#000" stroke-width="2.3" fill="none" stroke-linejoin="miter"/>
<path d="M728.3 332.4L636 345M655.8 332.7L636 345L658.4 351.5" stroke="#000" stroke-width="2.3" fill="none" stroke-linejoin="miter"/>
<path d="M835 332.4L750 322M770.5 315.7L750 322L768.4 333" stroke="#000" stroke-width="2.3" fill="none" stroke-linejoin="miter"/>
<path d="M940.4 332.4L858 322M877.9 316L858 322L875.8 332.8" stroke="#000" stroke-width="2.3" fill="none" stroke-linejoin="miter"/>
<path d="M1047.4 333.5L962.6 343.5M981 332.6L962.6 343.5L983 349.8" stroke="#000" stroke-width="2.3" fill="none" stroke-linejoin="miter"/>
<path d="M1155 333.5L1070.4 328M1090.3 320.7L1070.4 328L1089.2 337.9" stroke="#000" stroke-width="2.3" fill="none" stroke-linejoin="miter"/>
<path d="M301 378.7L252 380.6M263 375.2L252 380.6L263.4 385.1" stroke="#000" stroke-width="2.3" fill="none" stroke-linejoin="miter"/>
<path d="M408.5 389.8L341.9 381.7M357.9 376.8L341.9 381.7L356.3 390.3" stroke="#000" stroke-width="2.3" fill="none" stroke-linejoin="miter"/>
<path d="M514.8 397L422 389M444 381.4L422 389L442.4 400.3" stroke="#000" stroke-width="2.3" fill="none" stroke-linejoin="miter"/>
<path d="M621.5 406L527 401.7M549 393.1L527 401.7L548.1 412.3" stroke="#000" stroke-width="2.3" fill="none" stroke-linejoin="miter"/>
<path d="M728.3 407.6L645.5 412M664 402.6L645.5 412L664.9 419.4" stroke="#000" stroke-width="2.3" fill="none" stroke-linejoin="miter"/>
<path d="M835 408.3L760 388.7M779.1 385.6L760 388.7L775.1 400.8" stroke="#000" stroke-width="2.3" fill="none" stroke-linejoin="miter"/>
<path d="M940.4 407.6L868.5 404.6M885.2 398L868.5 404.6L884.6 412.6" stroke="#000" stroke-width="2.3" fill="none" stroke-linejoin="miter"/>
<path d="M1047.4 407.6L977.8 416.5M992.8 407.4L977.8 416.5L994.6 421.5" stroke="#000" stroke-width="2.3" fill="none" stroke-linejoin="miter"/>
<path d="M1155 406.5L1084 399M1101 393.5L1084 399L1099.5 407.9" stroke="#000" stroke-width="2.3" fill="none" stroke-linejoin="miter"/>
<path d="M301 457.8L263.3 454.8M272.2 451.7L263.3 454.8L271.6 459.3" stroke="#000" stroke-width="2.3" fill="none" stroke-linejoin="miter"/>
<path d="M408.5 471.5L369.6 473.3M378.3 468.9L369.6 473.3L378.7 476.8" stroke="#000" stroke-width="2.3" fill="none" stroke-linejoin="miter"/>
<path d="M514.8 478L463.3 477M475.2 472L463.3 477L475 482.5" stroke="#000" stroke-width="2.3" fill="none" stroke-linejoin="miter"/>
<path d="M621.5 491L557.4 480.7M573.1 476.5L557.4 480.7L571 489.6" stroke="#000" stroke-width="2.3" fill="none" stroke-linejoin="miter"/>
<path d="M728.3 490L662 486M677.5 480.2L662 486L676.7 493.7" stroke="#000" stroke-width="2.3" fill="none" stroke-linejoin="miter"/>
<path d="M835 492L768 472.6M785.3 470.2L768 472.6L781.3 483.8" stroke="#000" stroke-width="2.3" fill="none" stroke-linejoin="miter"/>
<path d="M941.8 491L867.4 492M884.3 484.2L867.4 492L884.5 499.3" stroke="#000" stroke-width="2.3" fill="none" stroke-linejoin="miter"/>
<path d="M1048.6 492L976.7 497.4M992.6 488.9L976.7 497.4L993.7 503.5" stroke="#000" stroke-width="2.3" fill="none" stroke-linejoin="miter"/>
<path d="M1155 492L1086 483M1102.7 478L1086 483L1100.8 492.1" stroke="#000" stroke-width="2.3" fill="none" stroke-linejoin="miter"/>
<path d="M301 546.3L274.4 538M281.3 537.2L274.4 538L279.6 542.6" stroke="#000" stroke-width="2.3" fill="none" stroke-linejoin="miter"/>
<path d="M408.5 561L379 554.8M386.4 553.2L379 554.8L385.1 559.2" stroke="#000" stroke-width="2.3" fill="none" stroke-linejoin="miter"/>
<path d="M514.8 569.6L494.8 576M498.7 572.5L494.8 576L500 576.6" stroke="#000" stroke-width="2.3" fill="none" stroke-linejoin="miter"/>
<path d="M621.5 584.4L608.5 577M612.2 577.4L608.5 577L610.7 580" stroke="#000" stroke-width="2.3" fill="none" stroke-linejoin="miter"/>
<path d="M728.3 583.7L714.8 582M718.1 581L714.8 582L717.7 583.8" stroke="#000" stroke-width="1.7" fill="none" stroke-linejoin="miter"/>
<path d="M835 584.4L797.8 582M806.5 578.8L797.8 582L806.1 586.3" stroke="#000" stroke-width="2.3" fill="none" stroke-linejoin="miter"/>
<path d="M941.8 585L889.6 588M901.2 582L889.6 588L901.8 592.6" stroke="#000" stroke-width="2.3" fill="none" stroke-linejoin="miter"/>
<path d="M1048.6 586L986 587M1000.2 580.4L986 587L1000.4 593.1" stroke="#000" stroke-width="2.3" fill="none" stroke-linejoin="miter"/>
<path d="M1155 587L1093 579.6M1107.9 575L1093 579.6L1106.4 587.6" stroke="#000" stroke-width="2.3" fill="none" stroke-linejoin="miter"/>
<path d="M301 643L300.4 639.6M301.8 641.7L300.4 639.6L299.8 642" stroke="#000" stroke-width="1.7" fill="none" stroke-linejoin="miter"/>
<path d="M408.5 660.4L402.2 649M404.8 651L402.2 649L402.5 652.2" stroke="#000" stroke-width="1.7" fill="none" stroke-linejoin="miter"/>
<path d="M514.8 671.5L512.2 674M513.1 671.7L512.2 674L514.6 673.2" stroke="#000" stroke-width="1.7" fill="none" stroke-linejoin="miter"/>
<path d="M621.5 686.3L619.6 689M620.1 686.5L619.6 689L621.7 687.7" stroke="#000" stroke-width="1.7" fill="none" stroke-linejoin="miter"/>
<path d="M728.3 689L720.4 690M722.5 688.7L720.4 690L722.8 690.7" stroke="#000" stroke-width="1.7" fill="none" stroke-linejoin="miter"/>
<path d="M835 688L825 703.7M825.7 699.1L825 703.7L828.9 701.1" stroke="#000" stroke-width="2.3" fill="none" stroke-linejoin="miter"/>
<path d="M941.8 689L921.5 702M924.8 697L921.5 702L927.5 701.1" stroke="#000" stroke-width="2.3" fill="none" stroke-linejoin="miter"/>
<path d="M1048.6 689L1018 685M1025.4 682.8L1018 685L1024.6 689" stroke="#000" stroke-width="2.3" fill="none" stroke-linejoin="miter"/>
<path d="M1155 690L1121 686M1129.2 683.5L1121 686L1128.4 690.4" stroke="#000" stroke-width="2.3" fill="none" stroke-linejoin="miter"/>
<path d="M299.6 737L303.3 733.3M302.4 735.6L303.3 733.3L301 734.2" stroke="#000" stroke-width="1.7" fill="none" stroke-linejoin="miter"/>
<path d="M407.8 757.4L414.8 742.6M414.7 746.7L414.8 742.6L411.7 745.3" stroke="#000" stroke-width="2.3" fill="none" stroke-linejoin="miter"/>
<path d="M514 769L527 774M523.5 774.2L527 774L524.5 771.5" stroke="#000" stroke-width="1.7" fill="none" stroke-linejoin="miter"/>
<path d="M621.5 789L637.4 789M633.8 790.6L637.4 789L633.8 787.4" stroke="#000" stroke-width="2.3" fill="none" stroke-linejoin="miter"/>
<path d="M833 789L837 797M835.1 795.4L837 797L836.9 794.5" stroke="#000" stroke-width="1.7" fill="none" stroke-linejoin="miter"/>
<path d="M941.5 789L934 806M934 801.4L934 806L937.4 802.9" stroke="#000" stroke-width="2.3" fill="none" stroke-linejoin="miter"/>
<path d="M1047.8 790L1037 784.4M1040 784.6L1037 784.4L1038.9 786.8" stroke="#000" stroke-width="1.7" fill="none" stroke-linejoin="miter"/>
<path d="M1155 790L1137 789.6M1141.2 787.9L1137 789.6L1141.1 791.5" stroke="#000" stroke-width="2.3" fill="none" stroke-linejoin="miter"/>
<path d="M301 796.3L297.4 789M299.3 790.6L297.4 789L297.5 791.5" stroke="#000" stroke-width="1.7" fill="none" stroke-linejoin="miter"/>
<path d="M408.5 816L403.7 806.3M405.8 808L403.7 806.3L403.8 809" stroke="#000" stroke-width="1.7" fill="none" stroke-linejoin="miter"/>
<path d="M514.8 829.6L505 830.4M507.2 829.2L505 830.4L507.4 831.2" stroke="#000" stroke-width="1.7" fill="none" stroke-linejoin="miter"/>
<path d="M621.5 851.9L619.6 843.3M621.1 845.3L619.6 843.3L619.1 845.7" stroke="#000" stroke-width="1.7" fill="none" stroke-linejoin="miter"/>
<path d="M727.4 850L736.7 845.6M735 847.6L736.7 845.6L734.1 845.7" stroke="#000" stroke-width="1.7" fill="none" stroke-linejoin="miter"/>
<path d="M834 850L844 860M840.7 858.7L844 860L842.7 856.7" stroke="#000" stroke-width="2.3" fill="none" stroke-linejoin="miter"/>
<path d="M940.4 850.7L955 866M950.1 864L955 866L953.2 861" stroke="#000" stroke-width="2.3" fill="none" stroke-linejoin="miter"/>
<path d="M1047 852L1051.5 849M1050.2 851.1L1051.5 849L1049 849.4" stroke="#000" stroke-width="1.7" fill="none" stroke-linejoin="miter"/>
<path d="M294.4 887L301 881.5M299.9 883.7L301 881.5L298.6 882.2" stroke="#000" stroke-width="1.7" fill="none" stroke-linejoin="miter"/>
<path d="M407.4 905.6L414.8 897.4M413.9 900L414.8 897.4L412.3 898.5" stroke="#000" stroke-width="1.7" fill="none" stroke-linejoin="miter"/>
<path d="M512 924L516 920M515.1 922.3L516 920L513.7 920.9" stroke="#000" stroke-width="1.7" fill="none" stroke-linejoin="miter"/>
<circle cx="622" cy="943.5" r="1.5" fill="#000"/>
<path d="M726 934L728.5 942.6M726.9 940.7L728.5 942.6L728.8 940.1" stroke="#000" stroke-width="1.7" fill="none" stroke-linejoin="miter"/>
<path d="M830.4 934.4L834 943.3M832.2 941.6L834 943.3L834.1 940.8" stroke="#000" stroke-width="1.7" fill="none" stroke-linejoin="miter"/>
<path d="M940.4 942.6L955 947.4M951.2 947.8L955 947.4L952.2 944.8" stroke="#000" stroke-width="2.3" fill="none" stroke-linejoin="miter"/>
<path d="M1047 943.3L1063 949.3M1058.7 949.6L1063 949.3L1060 946.3" stroke="#000" stroke-width="2.3" fill="none" stroke-linejoin="miter"/>
<path d="M197.4 950L210.4 953.7M207.1 954.2L210.4 953.7L207.8 951.5" stroke="#000" stroke-width="1.7" fill="none" stroke-linejoin="miter"/>
<path d="M301 959L320.4 965M315.4 965.6L320.4 965L316.6 961.7" stroke="#000" stroke-width="2.3" fill="none" stroke-linejoin="miter"/>
<path d="M408.5 984.4L424.4 987M420.5 988L424.4 987L421 984.8" stroke="#000" stroke-width="2.3" fill="none" stroke-linejoin="miter"/>
<path d="M514.8 1000L533.7 1002.6M529.1 1003.9L533.7 1002.6L529.6 1000.1" stroke="#000" stroke-width="2.3" fill="none" stroke-linejoin="miter"/>
<path d="M621.5 1026L648 1026M641.9 1028.7L648 1026L641.9 1023.3" stroke="#000" stroke-width="2.3" fill="none" stroke-linejoin="miter"/>
<circle cx="940.4" cy="1025.5" r="1.5" fill="#000"/>
<circle cx="1047.8" cy="1026" r="1.5" fill="#000"/>
</g>
<g shape-rendering="crispEdges">
<rect x="194.5" y="179.5" width="960" height="876" fill="none" stroke="#000" stroke-width="1"/>
<path d="M194.5 1055v-13M194.5 179v13M220.5 1055v-6.5M220.5 179v6.5M246.5 1055v-6.5M246.5 179v6.5M273.5 1055v-6.5M273.5 179v6.5M299.5 1055v-6.5M299.5 179v6.5M326.5 1055v-6.5M326.5 179v6.5M352.5 1055v-6.5M352.5 179v6.5M379.5 1055v-6.5M379.5 179v6.5M405.5 1055v-6.5M405.5 179v6.5M432.5 1055v-6.5M432.5 179v6.5M458.5 1055v-13M458.5 179v13M485.5 1055v-6.5M485.5 179v6.5M511.5 1055v-6.5M511.5 179v6.5M538.5 1055v-6.5M538.5 179v6.5M564.5 1055v-6.5M564.5 179v6.5M591.5 1055v-6.5M591.5 179v6.5M617.5 1055v-6.5M617.5 179v6.5M644.5 1055v-6.5M644.5 179v6.5M670.5 1055v-6.5M670.5 179v6.5M697.5 1055v-6.5M697.5 179v6.5M723.5 1055v-13M723.5 179v13M749.5 1055v-6.5M749.5 179v6.5M776.5 1055v-6.5M776.5 179v6.5M802.5 1055v-6.5M802.5 179v6.5M829.5 1055v-6.5M829.5 179v6.5M855.5 1055v-6.5M855.5 179v6.5M882.5 1055v-6.5M882.5 179v6.5M908.5 1055v-6.5M908.5 179v6.5M935.5 1055v-6.5M935.5 179v6.5M961.5 1055v-6.5M961.5 179v6.5M988.5 1055v-13M988.5 179v13M1014.5 1055v-6.5M1014.5 179v6.5M1041.5 1055v-6.5M1041.5 179v6.5M1067.5 1055v-6.5M1067.5 179v6.5M1094.5 1055v-6.5M1094.5 179v6.5M1120.5 1055v-6.5M1120.5 179v6.5M1147.5 1055v-6.5M1147.5 179v6.5M194 191.5h6M1155 191.5h-6M194 203.5h6M1155 203.5h-6M194 215.5h6M1155 215.5h-6M194 227.5h6M1155 227.5h-6M194 239.5h6M1155 239.5h-6M194 251.5h6M1155 251.5h-6M194 263.5h6M1155 263.5h-6M194 275.5h6M1155 275.5h-6M194 287.5h6M1155 287.5h-6M194 299.5h12M1155 299.5h-12M194 311.5h6M1155 311.5h-6M194 323.5h6M1155 323.5h-6M194 335.5h6M1155 335.5h-6M194 347.5h6M1155 347.5h-6M194 359.5h6M1155 359.5h-6M194 371.5h6M1155 371.5h-6M194 383.5h6M1155 383.5h-6M194 395.5h6M1155 395.5h-6M194 407.5h6M1155 407.5h-6M194 419.5h12M1155 419.5h-12M194 431.5h6M1155 431.5h-6M194 443.5h6M1155 443.5h-6M194 455.5h6M1155 455.5h-6M194 467.5h6M1155 467.5h-6M194 479.5h6M1155 479.5h-6M194 491.5h6M1155 491.5h-6M194 503.5h6M1155 503.5h-6M194 515.5h6M1155 515.5h-6M194 527.5h6M1155 527.5h-6M194 539.5h12M1155 539.5h-12M194 551.5h6M1155 551.5h-6M194 563.5h6M1155 563.5h-6M194 575.5h6M1155 575.5h-6M194 587.5h6M1155 587.5h-6M194 599.5h6M1155 599.5h-6M194 611.5h6M1155 611.5h-6M194 623.5h6M1155 623.5h-6M194 635.5h6M1155 635.5h-6M194 647.5h6M1155 647.5h-6M194 659.5h12M1155 659.5h-12M194 671.5h6M1155 671.5h-6M194 683.5h6M1155 683.5h-6M194 695.5h6M1155 695.5h-6M194 707.5h6M1155 707.5h-6M194 719.5h6M1155 719.5h-6M194 731.5h6M1155 731.5h-6M194 743.5h6M1155 743.5h-6M194 755.5h6M1155 755.5h-6M194 767.5h6M1155 767.5h-6M194 779.5h12M1155 779.5h-12M194 791.5h6M1155 791.5h-6M194 803.5h6M1155 803.5h-6M194 815.5h6M1155 815.5h-6M194 827.5h6M1155 827.5h-6M194 839.5h6M1155 839.5h-6M194 851.5h6M1155 851.5h-6M194 863.5h6M1155 863.5h-6M194 875.5h6M1155 875.5h-6M194 887.5h6M1155 887.5h-6M194 899.5h12M1155 899.5h-12M194 911.5h6M1155 911.5h-6M194 923.5h6M1155 923.5h-6M194 935.5h6M1155 935.5h-6M194 947.5h6M1155 947.5h-6M194 959.5h6M1155 959.5h-6M194 971.5h6M1155 971.5h-6M194 983.5h6M1155 983.5h-6M194 995.5h6M1155 995.5h-6M194 1007.5h6M1155 1007.5h-6M194 1019.5h12M1155 1019.5h-12M194 1031.5h6M1155 1031.5h-6M194 1043.5h6M1155 1043.5h-6M194 1055.5h6M1155 1055.5h-6" stroke="#000" stroke-width="1" fill="none"/>
</g>
<text x="173.5" y="185" font-family='"Liberation Sans", sans-serif' font-size="16.8" fill="#000" text-anchor="end" textLength="32.5" lengthAdjust="spacingAndGlyphs" stroke="#fff" stroke-width="0.12" >300</text>
<text x="173.5" y="305" font-family='"Liberation Sans", sans-serif' font-size="16.8" fill="#000" text-anchor="end" textLength="32.5" lengthAdjust="spacingAndGlyphs" stroke="#fff" stroke-width="0.12" >400</text>
<text x="173.5" y="425" font-family='"Liberation Sans", sans-serif' font-size="16.8" fill="#000" text-anchor="end" textLength="32.5" lengthAdjust="spacingAndGlyphs" stroke="#fff" stroke-width="0.12" >500</text>
<text x="173.5" y="545" font-family='"Liberation Sans", sans-serif' font-size="16.8" fill="#000" text-anchor="end" textLength="32.5" lengthAdjust="spacingAndGlyphs" stroke="#fff" stroke-width="0.12" >600</text>
<text x="173.5" y="665" font-family='"Liberation Sans", sans-serif' font-size="16.8" fill="#000" text-anchor="end" textLength="32.5" lengthAdjust="spacingAndGlyphs" stroke="#fff" stroke-width="0.12" >700</text>
<text x="173.5" y="785" font-family='"Liberation Sans", sans-serif' font-size="16.8" fill="#000" text-anchor="end" textLength="32.5" lengthAdjust="spacingAndGlyphs" stroke="#fff" stroke-width="0.12" >800</text>
<text x="173.5" y="905" font-family='"Liberation Sans", sans-serif' font-size="16.8" fill="#000" text-anchor="end" textLength="32.5" lengthAdjust="spacingAndGlyphs" stroke="#fff" stroke-width="0.12" >900</text>
<text x="173.5" y="1025" font-family='"Liberation Sans", sans-serif' font-size="16.8" fill="#000" text-anchor="end" textLength="43.5" lengthAdjust="spacingAndGlyphs" stroke="#fff" stroke-width="0.12" >1000</text>
<text x="194" y="1080.5" font-family='"Liberation Sans", sans-serif' font-size="16.8" fill="#000" text-anchor="middle" textLength="10.5" lengthAdjust="spacingAndGlyphs" stroke="#fff" stroke-width="0.12" >0</text>
<text x="458.8" y="1080.5" font-family='"Liberation Sans", sans-serif' font-size="16.8" fill="#000" text-anchor="middle" textLength="32.5" lengthAdjust="spacingAndGlyphs" stroke="#fff" stroke-width="0.12" >100</text>
<text x="723.5" y="1080.5" font-family='"Liberation Sans", sans-serif' font-size="16.8" fill="#000" text-anchor="middle" textLength="32.5" lengthAdjust="spacingAndGlyphs" stroke="#fff" stroke-width="0.12" >200</text>
<text x="988.2" y="1080.5" font-family='"Liberation Sans", sans-serif' font-size="16.8" fill="#000" text-anchor="middle" textLength="32.5" lengthAdjust="spacingAndGlyphs" stroke="#fff" stroke-width="0.12" >300</text>
<text x="196" y="1105" font-family='"Liberation Serif", serif' font-size="23" fill="#000" text-anchor="start" stroke="#fff" stroke-width="0.4" >N</text>
<text x="1142" y="1105" font-family='"Liberation Serif", serif' font-size="23" fill="#000" text-anchor="start" stroke="#fff" stroke-width="0.4" >S</text>
<text x="592.5" y="1105" font-family='"Liberation Serif", serif' font-size="23" fill="#000" text-anchor="start" textLength="163" lengthAdjust="spacingAndGlyphs" stroke="#fff" stroke-width="0.4" word-spacing="5">Distance (km)</text>
<text transform="translate(135.5,704.5) rotate(-90)" font-family='"Liberation Serif", serif' font-size="23.5" textLength="173" lengthAdjust="spacingAndGlyphs" word-spacing="5" stroke="#fff" stroke-width="0.4">Pressure (hPa)</text>
<rect x="1190.5" y="179.5" width="19.0" height="27.9" fill="rgb(255,0,0)" stroke="#000" stroke-width="1" shape-rendering="crispEdges"/>
<rect x="1190.5" y="207.4" width="19.0" height="27.4" fill="rgb(255,16,16)" stroke="#000" stroke-width="1" shape-rendering="crispEdges"/>
<rect x="1190.5" y="234.7" width="19.0" height="27.4" fill="rgb(255,33,33)" stroke="#000" stroke-width="1" shape-rendering="crispEdges"/>
<rect x="1190.5" y="262.1" width="19.0" height="27.4" fill="rgb(255,49,49)" stroke="#000" stroke-width="1" shape-rendering="crispEdges"/>
<rect x="1190.5" y="289.4" width="19.0" height="27.4" fill="rgb(255,66,66)" stroke="#000" stroke-width="1" shape-rendering="crispEdges"/>
<rect x="1190.5" y="316.8" width="19.0" height="27.4" fill="rgb(255,82,82)" stroke="#000" stroke-width="1" shape-rendering="crispEdges"/>
<rect x="1190.5" y="344.2" width="19.0" height="27.4" fill="rgb(255,99,99)" stroke="#000" stroke-width="1" shape-rendering="crispEdges"/>
<rect x="1190.5" y="371.5" width="19.0" height="27.4" fill="rgb(255,115,115)" stroke="#000" stroke-width="1" shape-rendering="crispEdges"/>
<rect x="1190.5" y="398.9" width="19.0" height="27.4" fill="rgb(255,132,132)" stroke="#000" stroke-width="1" shape-rendering="crispEdges"/>
<rect x="1190.5" y="426.2" width="19.0" height="27.4" fill="rgb(255,148,148)" stroke="#000" stroke-width="1" shape-rendering="crispEdges"/>
<rect x="1190.5" y="453.6" width="19.0" height="27.4" fill="rgb(255,164,164)" stroke="#000" stroke-width="1" shape-rendering="crispEdges"/>
<rect x="1190.5" y="481" width="19.0" height="27.4" fill="rgb(255,181,181)" stroke="#000" stroke-width="1" shape-rendering="crispEdges"/>
<rect x="1190.5" y="508.3" width="19.0" height="27.4" fill="rgb(255,197,197)" stroke="#000" stroke-width="1" shape-rendering="crispEdges"/>
<rect x="1190.5" y="535.7" width="19.0" height="27.4" fill="rgb(255,214,214)" stroke="#000" stroke-width="1" shape-rendering="crispEdges"/>
<rect x="1190.5" y="563" width="19.0" height="27.4" fill="rgb(255,230,230)" stroke="#000" stroke-width="1" shape-rendering="crispEdges"/>
<rect x="1190.5" y="590.4" width="19.0" height="27.4" fill="rgb(255,247,247)" stroke="#000" stroke-width="1" shape-rendering="crispEdges"/>
<rect x="1190.5" y="617.8" width="19.0" height="27.4" fill="rgb(247,247,255)" stroke="#000" stroke-width="1" shape-rendering="crispEdges"/>
<rect x="1190.5" y="645.1" width="19.0" height="27.4" fill="rgb(230,230,255)" stroke="#000" stroke-width="1" shape-rendering="crispEdges"/>
<rect x="1190.5" y="672.5" width="19.0" height="27.4" fill="rgb(214,214,255)" stroke="#000" stroke-width="1" shape-rendering="crispEdges"/>
<rect x="1190.5" y="699.8" width="19.0" height="27.4" fill="rgb(197,197,255)" stroke="#000" stroke-width="1" shape-rendering="crispEdges"/>
<rect x="1190.5" y="727.2" width="19.0" height="27.4" fill="rgb(181,181,255)" stroke="#000" stroke-width="1" shape-rendering="crispEdges"/>
<rect x="1190.5" y="754.5" width="19.0" height="27.4" fill="rgb(164,164,255)" stroke="#000" stroke-width="1" shape-rendering="crispEdges"/>
<rect x="1190.5" y="781.9" width="19.0" height="27.4" fill="rgb(148,148,255)" stroke="#000" stroke-width="1" shape-rendering="crispEdges"/>
<rect x="1190.5" y="809.3" width="19.0" height="27.4" fill="rgb(132,132,255)" stroke="#000" stroke-width="1" shape-rendering="crispEdges"/>
<rect x="1190.5" y="836.6" width="19.0" height="27.4" fill="rgb(115,115,255)" stroke="#000" stroke-width="1" shape-rendering="crispEdges"/>
<rect x="1190.5" y="864" width="19.0" height="27.4" fill="rgb(99,99,255)" stroke="#000" stroke-width="1" shape-rendering="crispEdges"/>
<rect x="1190.5" y="891.3" width="19.0" height="27.4" fill="rgb(82,82,255)" stroke="#000" stroke-width="1" shape-rendering="crispEdges"/>
<rect x="1190.5" y="918.7" width="19.0" height="27.4" fill="rgb(66,66,255)" stroke="#000" stroke-width="1" shape-rendering="crispEdges"/>
<rect x="1190.5" y="946.1" width="19.0" height="27.4" fill="rgb(49,49,255)" stroke="#000" stroke-width="1" shape-rendering="crispEdges"/>
<rect x="1190.5" y="973.4" width="19.0" height="27.4" fill="rgb(33,33,255)" stroke="#000" stroke-width="1" shape-rendering="crispEdges"/>
<rect x="1190.5" y="1000.8" width="19.0" height="27.4" fill="rgb(16,16,255)" stroke="#000" stroke-width="1" shape-rendering="crispEdges"/>
<rect x="1190.5" y="1028.1" width="19.0" height="27.4" fill="rgb(0,0,255)" stroke="#000" stroke-width="1" shape-rendering="crispEdges"/>
<text x="1224" y="1008.4" font-family='"Liberation Serif", serif' font-size="22.5" fill="#000" text-anchor="start" textLength="40.5" lengthAdjust="spacingAndGlyphs" stroke="#fff" stroke-width="0.4" >−28</text>
<text x="1224" y="953.7" font-family='"Liberation Serif", serif' font-size="22.5" fill="#000" text-anchor="start" textLength="40.5" lengthAdjust="spacingAndGlyphs" stroke="#fff" stroke-width="0.4" >−24</text>
<text x="1224" y="898.9" font-family='"Liberation Serif", serif' font-size="22.5" fill="#000" text-anchor="start" textLength="40.5" lengthAdjust="spacingAndGlyphs" stroke="#fff" stroke-width="0.4" >−20</text>
<text x="1224" y="844.2" font-family='"Liberation Serif", serif' font-size="22.5" fill="#000" text-anchor="start" textLength="40.5" lengthAdjust="spacingAndGlyphs" stroke="#fff" stroke-width="0.4" >−16</text>
<text x="1224" y="789.5" font-family='"Liberation Serif", serif' font-size="22.5" fill="#000" text-anchor="start" textLength="40.5" lengthAdjust="spacingAndGlyphs" stroke="#fff" stroke-width="0.4" >−12</text>
<text x="1224" y="734.8" font-family='"Liberation Serif", serif' font-size="22.5" fill="#000" text-anchor="start" textLength="28" lengthAdjust="spacingAndGlyphs" stroke="#fff" stroke-width="0.4" >−8</text>
<text x="1224" y="680.1" font-family='"Liberation Serif", serif' font-size="22.5" fill="#000" text-anchor="start" textLength="28" lengthAdjust="spacingAndGlyphs" stroke="#fff" stroke-width="0.4" >−4</text>
<text x="1222" y="625.4" font-family='"Liberation Serif", serif' font-size="22.5" fill="#000" text-anchor="start" textLength="11.5" lengthAdjust="spacingAndGlyphs" stroke="#fff" stroke-width="0.4" >0</text>
<text x="1222" y="570.6" font-family='"Liberation Serif", serif' font-size="22.5" fill="#000" text-anchor="start" textLength="11.5" lengthAdjust="spacingAndGlyphs" stroke="#fff" stroke-width="0.4" >4</text>
<text x="1222" y="515.9" font-family='"Liberation Serif", serif' font-size="22.5" fill="#000" text-anchor="start" textLength="11.5" lengthAdjust="spacingAndGlyphs" stroke="#fff" stroke-width="0.4" >8</text>
<text x="1222" y="461.2" font-family='"Liberation Serif", serif' font-size="22.5" fill="#000" text-anchor="start" textLength="26" lengthAdjust="spacingAndGlyphs" stroke="#fff" stroke-width="0.4" >12</text>
<text x="1222" y="406.5" font-family='"Liberation Serif", serif' font-size="22.5" fill="#000" text-anchor="start" textLength="26" lengthAdjust="spacingAndGlyphs" stroke="#fff" stroke-width="0.4" >16</text>
<text x="1222" y="351.8" font-family='"Liberation Serif", serif' font-size="22.5" fill="#000" text-anchor="start" textLength="26" lengthAdjust="spacingAndGlyphs" stroke="#fff" stroke-width="0.4" >20</text>
<text x="1222" y="297" font-family='"Liberation Serif", serif' font-size="22.5" fill="#000" text-anchor="start" textLength="26" lengthAdjust="spacingAndGlyphs" stroke="#fff" stroke-width="0.4" >24</text>
<text x="1222" y="242.3" font-family='"Liberation Serif", serif' font-size="22.5" fill="#000" text-anchor="start" textLength="26" lengthAdjust="spacingAndGlyphs" stroke="#fff" stroke-width="0.4" >28</text>
<text x="1221.5" y="187" font-family='"Liberation Serif", serif' font-size="22" stroke="#fff" stroke-width="0.4"><tspan font-size="15" dy="-6">o</tspan><tspan dy="6" dx="1.5">C</tspan></text>
<text x="340.4" y="1191" font-family='"Liberation Serif", serif' font-size="15.5" textLength="159" lengthAdjust="spacingAndGlyphs">MAXIMUM VECTOR:</text>
<text x="516.6" y="1191" font-family='"Liberation Serif", serif' font-size="15.5" textLength="173" lengthAdjust="spacingAndGlyphs">23.7 m s<tspan dy="-5" font-size="11" font-weight="bold">−1</tspan><tspan dy="5"> (HORIZ)</tspan></text>
<text x="769" y="1191" font-family='"Liberation Serif", serif' font-size="15.5" textLength="178.7" lengthAdjust="spacingAndGlyphs">18.0 dPa s<tspan dy="-5" font-size="11" font-weight="bold">−1</tspan><tspan dy="5"> (VERT)</tspan></text>
<path d="M1243 1148V1184.7H1137M1159.7 1173.6L1136.7 1184.7L1159.7 1196M1238 1156.5L1243 1147.5L1248 1156.5" stroke="#000" stroke-width="1.8" fill="none"/>
</svg></body></html>
